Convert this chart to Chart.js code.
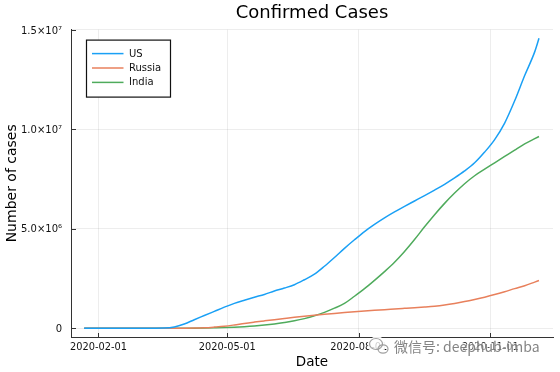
<!DOCTYPE html>
<html>
<head>
<meta charset="utf-8">
<script src="https://cdn.jsdelivr.net/npm/chart.js@4.4.0/dist/chart.umd.min.js"></script>
<style>
  html, body { margin: 0; padding: 0; background: #fff; }
  #wrap { width: 560px; height: 372px; }
</style>
</head>
<body>
<div id="wrap"><canvas id="cases" width="560" height="372"></canvas></div>
<script>
// weekly readings, 2020-01-22 .. 2020-12-05
const dates = [
  "2020-01-22", "2020-01-29", "2020-02-05", "2020-02-12", "2020-02-19", "2020-02-26",
  "2020-03-04", "2020-03-11", "2020-03-18", "2020-03-25", "2020-04-01", "2020-04-08",
  "2020-04-15", "2020-04-22", "2020-04-29", "2020-05-06", "2020-05-13", "2020-05-20",
  "2020-05-27", "2020-06-03", "2020-06-10", "2020-06-17", "2020-06-24", "2020-07-01",
  "2020-07-08", "2020-07-15", "2020-07-22", "2020-07-29", "2020-08-05", "2020-08-12",
  "2020-08-19", "2020-08-26", "2020-09-02", "2020-09-09", "2020-09-16", "2020-09-23",
  "2020-09-30", "2020-10-07", "2020-10-14", "2020-10-21", "2020-10-28", "2020-11-04",
  "2020-11-11", "2020-11-18", "2020-11-25", "2020-12-02", "2020-12-05",
];

const usCases = [
  1, 5, 12, 13, 15, 60,
  150, 1300, 9000, 66000, 215000, 430000,
  640000, 850000, 1060000, 1250000, 1410000, 1560000,
  1700000, 1870000, 2020000, 2190000, 2440000, 2720000,
  3120000, 3560000, 4020000, 4450000, 4860000, 5220000,
  5550000, 5850000, 6130000, 6400000, 6670000, 6950000,
  7240000, 7560000, 7910000, 8320000, 8860000, 9490000,
  10320000, 11440000, 12710000, 13900000, 14580000,
];

const russiaCases = [
  0, 0, 2, 2, 2, 2,
  3, 20, 147, 658, 2777, 8672,
  24490, 57999, 99399, 165929, 242271, 308705,
  370680, 432277, 493023, 552549, 606881, 654405,
  700792, 745197, 787890, 827509, 864948, 900745,
  935066, 968297, 1001965, 1035789, 1069873, 1111157,
  1170799, 1248619, 1340409, 1447335, 1563976, 1693454,
  1836960, 1991998, 2138037, 2322056, 2402949,
];

const indiaCases = [
  0, 0, 3, 3, 3, 3,
  28, 62, 151, 657, 1998, 5916,
  12322, 21370, 33062, 52987, 78055, 112028,
  158086, 216824, 290000, 375000, 485000, 625000,
  800000, 1010000, 1250000, 1610000, 1990000, 2410000,
  2850000, 3320000, 3860000, 4460000, 5100000, 5710000,
  6280000, 6800000, 7270000, 7670000, 8000000, 8320000,
  8640000, 8960000, 9270000, 9535000, 9644000,
];

const xTickLabels = ["2020-02-01", "2020-05-01", "2020-08-01", "2020-11-01"];
const yTickValues = [0, 5e6, 1e7, 1.5e7];
const yTickLabels = ["0", "5.0×10⁶", "1.0×10⁷", "1.5×10⁷"];

const seriesNames = ["US", "Russia", "India"];
const seriesColors = ["#1aa0f5", "#e8805c", "#4fab5c"];

// days since first date, so the x scale can stay linear
const day0 = Date.parse(dates[0]);
const toDay = (s) => (Date.parse(s) - day0) / 86400000;
const xTickDays = xTickLabels.map(toDay);

const font = "DejaVu Sans";

const makeSet = (i, values) => ({
  label: seriesNames[i],
  data: values.map((v, k) => ({ x: toDay(dates[k]), y: v })),
  borderColor: seriesColors[i],
  backgroundColor: seriesColors[i],
  borderWidth: 1.5,
  pointRadius: 0,
  fill: false,
  cubicInterpolationMode: "monotone",
});

// legend box drawn inside the plot, top left
const boxLegend = {
  id: "boxLegend",
  afterDatasetsDraw(chart) {
    const { ctx, chartArea } = chart;
    const x = chartArea.left + 15.5, y = chartArea.top + 10.5;
    ctx.save();
    ctx.fillStyle = "#fff";
    ctx.fillRect(x, y, 84, 57);
    ctx.strokeStyle = "#111";
    ctx.lineWidth = 1.2;
    ctx.strokeRect(x, y, 84, 57);
    ctx.font = "10px '" + font + "'";
    ctx.textBaseline = "middle";
    chart.data.datasets.forEach((ds, i) => {
      const ry = y + 13.5 + i * 14.4;
      ctx.strokeStyle = ds.borderColor;
      ctx.lineWidth = 1.5;
      ctx.beginPath();
      ctx.moveTo(x + 5.5, ry);
      ctx.lineTo(x + 37, ry);
      ctx.stroke();
      ctx.fillStyle = "#111";
      ctx.fillText(ds.label, x + 42.5, ry + 0.5);
    });
    ctx.restore();
  },
};

// short ticks pointing into the plot
const innerTicks = {
  id: "innerTicks",
  afterDraw(chart) {
    const { ctx, chartArea, scales } = chart;
    ctx.save();
    ctx.strokeStyle = "#333";
    ctx.lineWidth = 1;
    ctx.beginPath();
    scales.y.ticks.forEach((t) => {
      const py = Math.round(scales.y.getPixelForValue(t.value)) + 0.5;
      ctx.moveTo(chartArea.left, py);
      ctx.lineTo(chartArea.left + 5, py);
    });
    scales.x.ticks.forEach((t) => {
      const px = Math.round(scales.x.getPixelForValue(t.value)) + 0.5;
      ctx.moveTo(px, chartArea.bottom);
      ctx.lineTo(px, chartArea.bottom - 4);
    });
    ctx.stroke();
    ctx.restore();
  },
};

// watermark in the lower right corner
const watermark = {
  id: "watermark",
  afterDraw(chart) {
    const ctx = chart.ctx;
    ctx.save();
    ctx.strokeStyle = "rgba(255,255,255,0.9)";
    ctx.fillStyle = "rgba(255,255,255,0.8)";
    ctx.lineWidth = 3;
    ctx.beginPath();
    ctx.ellipse(377, 345, 8, 7, 0, 0, Math.PI * 2);
    ctx.fill();
    ctx.stroke();
    ctx.strokeStyle = "rgba(150,150,150,0.9)";
    ctx.lineWidth = 1.2;
    ctx.beginPath();
    ctx.ellipse(376, 344, 6.5, 5.5, 0, 0, Math.PI * 2);
    ctx.stroke();
    ctx.beginPath();
    ctx.ellipse(383, 349, 5, 4.2, 0, 0, Math.PI * 2);
    ctx.stroke();
    ctx.font = "14px 'Noto Sans CJK SC'";
    ctx.textBaseline = "middle";
    ctx.lineWidth = 2.5;
    ctx.strokeStyle = "rgba(255,255,255,0.5)";
    ctx.strokeText("微信号: deephub-imba", 394, 347);
    ctx.fillStyle = "rgba(110,110,110,0.85)";
    ctx.fillText("微信号: deephub-imba", 394, 347);
    ctx.restore();
  },
};

new Chart(document.getElementById("cases"), {
  type: "line",
  data: {
    datasets: [
      makeSet(0, usCases),
      makeSet(1, russiaCases),
      makeSet(2, indiaCases),
    ],
  },
  options: {
    responsive: false,
    animation: false,
    layout: { padding: { left: 0, right: 7, top: 0, bottom: 0 } },
    plugins: {
      legend: { display: false },
      tooltip: { enabled: false },
      title: {
        display: true,
        text: "Confirmed Cases",
        fullSize: false,
        color: "#000",
        font: { family: font, size: 18, weight: "normal" },
        padding: { top: 2.2, bottom: 5.8 },
      },
    },
    scales: {
      x: {
        type: "linear",
        min: -9.2,
        max: 327.8,
        afterBuildTicks: (scale) => {
          scale.ticks = xTickDays.map((v) => ({ value: v }));
        },
        afterFit: (scale) => {
          scale.height = 35;
        },
        ticks: {
          callback: (v, i) => xTickLabels[i],
          color: "#111",
          padding: 5,
          maxRotation: 0,
          autoSkip: false,
          font: { family: font, size: 9.8 },
        },
        grid: { color: "rgba(0,0,0,0.07)", drawTicks: false },
        border: { display: true, color: "#333", width: 1 },
        title: {
          display: true,
          text: "Date",
          color: "#000",
          font: { family: font, size: 13.5 },
          padding: { top: 0, bottom: 1.2 },
        },
      },
      y: {
        min: -0.44e6,
        max: 15.02e6,
        afterBuildTicks: (scale) => {
          scale.ticks = yTickValues.map((v) => ({ value: v }));
        },
        afterFit: (scale) => {
          scale.width = 71;
        },
        ticks: {
          callback: (v, i) => yTickLabels[i],
          color: "#111",
          padding: 9,
          labelOffset: 1,
          font: { family: font, size: 10 },
        },
        grid: { color: "rgba(0,0,0,0.07)", drawTicks: false },
        border: { display: true, color: "#333", width: 1 },
        title: {
          display: true,
          text: "Number of cases",
          color: "#000",
          font: { family: font, size: 14 },
          padding: { top: 3.6, bottom: 0 },
        },
      },
    },
  },
  plugins: [boxLegend, innerTicks, watermark],
});
</script>
</body>
</html>
